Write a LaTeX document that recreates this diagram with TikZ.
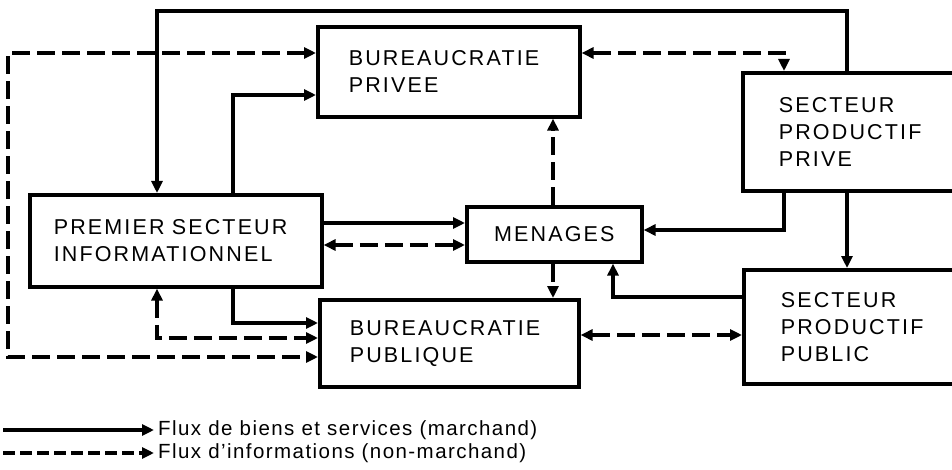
\documentclass[tikz,border=0pt]{standalone}
\usepackage{fontspec}
\setmainfont{Liberation Sans}
\newfontfamily\boxfont[LetterSpace=10]{Liberation Sans}
\newfontfamily\legfont[LetterSpace=7]{Liberation Sans}
\usetikzlibrary{arrows.meta}
\begin{document}
\begin{tikzpicture}[x=1pt,y=-1pt,
  sector/.style={draw, line width=3.6pt, anchor=north west, align=left,
    inner ysep=0pt, font=\boxfont\fontsize{21.5}{27}\selectfont},
  flow/.style={line width=3.4pt, -{Triangle[length=12pt,width=11pt]}},
  info/.style={flow, dash pattern=on 18pt off 7pt},
  both/.style={{Triangle[length=12pt,width=11pt]}-{Triangle[length=12pt,width=11pt]}},
  legend/.style={anchor=west, inner sep=0pt, font=\legfont\fontsize{20.5}{24}\selectfont}]
\useasboundingbox (0,0) rectangle (952,470);

% sectors
\node[sector, minimum width=262pt, minimum height=90pt, text width=200pt, inner xsep=31pt]
  (bp) at (316,25) {BUREAUCRATIE\\PRIVEE};
\node[sector, minimum width=209pt, minimum height=118pt, text width=150pt, inner xsep=36pt]
  (spp) at (741,71) {SECTEUR\\PRODUCTIF\\PRIVE};
\node[sector, minimum width=292pt, minimum height=92pt, text width=244pt, inner xsep=24pt]
  (psi) at (28,193) {PREMIER SECTEUR\\INFORMATIONNEL};
\node[sector, minimum width=175pt, minimum height=55pt, text width=140pt, inner xsep=17pt, align=center]
  (men) at (465,205) {MENAGES};
\node[sector, minimum width=259pt, minimum height=87pt, text width=199pt, inner xsep=29pt]
  (bpu) at (318,298) {BUREAUCRATIE\\PUBLIQUE};
\node[sector, minimum width=208pt, minimum height=114pt, text width=148pt, inner xsep=37pt]
  (spu) at (742,268) {SECTEUR\\PRODUCTIF\\PUBLIC};

% routing guides
\coordinate (x8) at (8,0);
\coordinate (x157) at (157,0);
\coordinate (x233) at (233,0);
\coordinate (x553) at (553,0);
\coordinate (x613) at (613,0);
\coordinate (x784) at (784,0);
\coordinate (x847) at (847,0);
\coordinate (y11) at (0,11);
\coordinate (y53) at (0,53);
\coordinate (y95) at (0,95);
\coordinate (y223) at (0,223);
\coordinate (y230) at (0,230);
\coordinate (y245) at (0,245);
\coordinate (y297) at (0,297);
\coordinate (y323) at (0,323);
\coordinate (y335) at (0,335);
\coordinate (y337) at (0,338);
\coordinate (y357) at (0,357);

% goods and services
\draw[flow] (spp.north -| x847) -- (x847 |- y11) -- (x157 |- y11) -- (psi.north -| x157);
\draw[flow] (psi.north -| x233) |- (bp.west |- y95);
\draw[flow] (psi.east |- y223) -- (men.west |- y223);
\draw[flow] (psi.south -| x233) |- (bpu.west |- y323);
\draw[flow] (spp.south -| x784) |- (men.east |- y230);
\draw[flow] (spp.south -| x847) -- (spu.north -| x847);
\draw[flow] (spu.west |- y297) -| (men.south -| x613);

% information
\draw[info, both] (bp.west |- y53) -- (x8 |- y53) -- (x8 |- y357) -- (bpu.west |- y357);
\draw[info, both] (bp.east |- y53) -- (x784 |- y53) -- (spp.north -| x784);
\draw[info, both] (psi.east |- y245) -- (men.west |- y245);
\draw[info, both] (psi.south -| x157) |- (bpu.west |- y337);
\draw[info] (men.north -| x553) -- (bp.south -| x553);
\draw[info] (men.south -| x553) -- (bpu.north -| x553);
\draw[info, both] (bpu.east |- y335) -- (spu.west |- y335);

% legend
\coordinate (la) at (3,430);
\coordinate (lb) at (3,453);
\node[legend] (lt1) at (158,430) {Flux de biens et services (marchand)};
\node[legend] (lt2) at (158,453) {Flux d’informations (non-marchand)};
\draw[flow] (la) -- ([xshift=-4pt]lt1.west);
\draw[flow, dash pattern=on 12pt off 5pt] (lb) -- ([xshift=-4pt]lt2.west);
\end{tikzpicture}
\end{document}
